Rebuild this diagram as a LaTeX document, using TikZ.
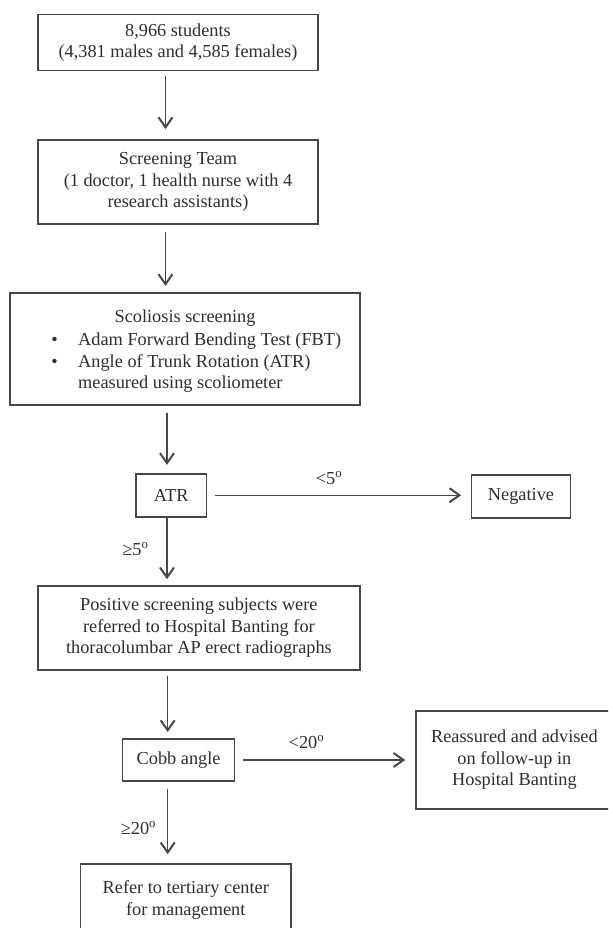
\documentclass[tikz,border=0pt]{standalone}
\usepackage{fontspec}
\setmainfont{Liberation Serif}
\usetikzlibrary{arrows.meta}
\definecolor{ink}{HTML}{2E2E2E}
\definecolor{edge}{HTML}{474747}
\begin{document}
\begin{tikzpicture}[x=1pt,y=-1pt,
  every node/.style={font=\fontsize{18.3}{21.5}\selectfont, text=ink, inner sep=0pt},
  boxn/.style={draw=edge, line width=1.6pt, align=center},
  arr/.style={draw=edge, line width=1.4pt, -{Straight Barb[length=10pt,width=14pt,line width=2pt]}}]
\clip (0,0) rectangle (608,928);
\fill[white] (0,0) rectangle (608,928);
\coordinate (xa) at (165.5,0);
\coordinate (xb) at (167,0);
\coordinate (xc) at (167.7,0);
% boxes
\node[boxn, minimum width=280.3pt, minimum height=56pt] (b1) at (178,42.7)
  {8,966 students\\(4,381 males and 4,585 females)};
\node[boxn, minimum width=280.3pt, minimum height=83.7pt] (b2) at (178,182)
  {Screening Team\\(1 doctor, 1 health nurse with 4\\research assistants)};
\node[boxn, minimum width=350.3pt, minimum height=112.3pt] (b3) at (184.9,348.9) {};
\node[anchor=base] (t31) at (185,322) {Scoliosis screening};
\node[anchor=base] (bu1) at (54.5,345) {•};
\node[anchor=base west] (t32) at (78,345) {Adam Forward Bending Test (FBT)};
\node[anchor=base] (bu2) at (54.5,367.7) {•};
\node[anchor=base west] (t33) at (78,367.7) {Angle of Trunk Rotation (ATR)};
\node[anchor=base west] (t34) at (78,388.7) {measured using scoliometer};
\node[boxn, minimum width=70.8pt, minimum height=43pt] (atr) at (171.2,495.2) {ATR};
\node[boxn, minimum width=98.8pt, minimum height=43.3pt] (neg) at (521,496.4) {Negative};
\node[boxn, minimum width=322.3pt, minimum height=84pt] (pos) at (198.9,628)
  {Positive screening subjects were\\referred to Hospital Banting for\\thoracolumbar AP erect radiographs};
\node[boxn, minimum width=112pt, minimum height=42.3pt] (cobb) at (178.6,760) {Cobb angle};
\node[boxn, minimum width=196.8pt, minimum height=98.3pt] (reas) at (514.4,760)
  {Reassured and advised\\on follow-up in\\Hospital Banting};
\node[boxn, minimum width=210.5pt, minimum height=72pt] (refer) at (185.75,900)
  {Refer to tertiary center\\for management};
% arrows
\draw[arr, shorten <=4.3pt, shorten >=10.3pt] (b1.south -| xa) -- (b2.north -| xa);
\draw[arr, shorten <=7pt, shorten >=6pt] (b2.south -| xa) -- (b3.north -| xa);
\draw[arr, shorten <=6.7pt, shorten >=8pt] (b3.south -| xb) -- (atr.north -| xb);
\draw[arr, shorten <=7.4pt, shorten >=9.6pt] (atr.east) -- (neg.west |- atr.east);
\draw[arr, shorten >=6pt] (atr.south -| xb) -- (pos.north -| xb);
\draw[arr, shorten <=5pt, shorten >=6pt] (pos.south -| xc) -- (cobb.north -| xc);
\draw[arr, shorten <=8pt, shorten >=10pt] (cobb.east) -- (reas.west |- cobb.east);
\draw[arr, shorten <=7pt, shorten >=9pt] (cobb.south -| xc) -- (refer.north -| xc);
% labels
\node[anchor=base] (l1) at (329,484) {<5\textsuperscript{o}};
\node[anchor=base] (l2) at (135.5,555) {≥5\textsuperscript{o}};
\node[anchor=base] (l3) at (306.5,748) {<20\textsuperscript{o}};
\node[anchor=base] (l4) at (138.5,834) {≥20\textsuperscript{o}};
\end{tikzpicture}
\end{document}
